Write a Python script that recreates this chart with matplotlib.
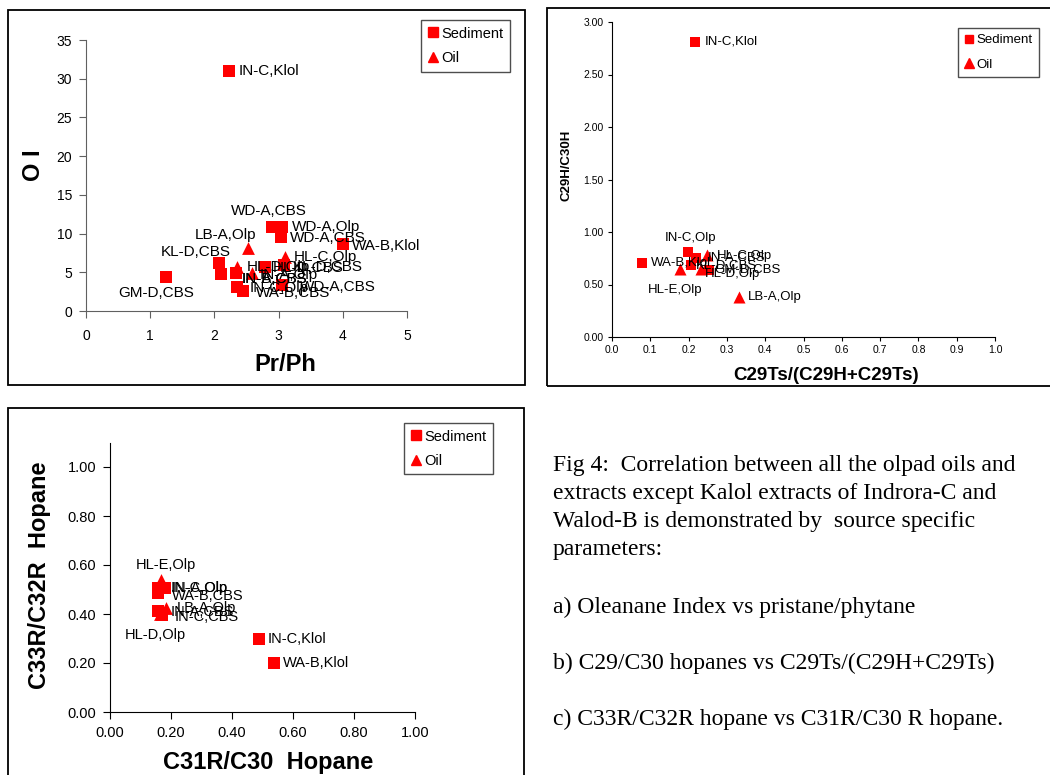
import matplotlib
matplotlib.use("Agg")
import matplotlib.pyplot as plt
from matplotlib.patches import Rectangle
from matplotlib.lines import Line2D

plt.rcParams['font.family'] = ['Liberation Sans', 'DejaVu Sans']

W, H = 1050, 775

# ---- a) OI vs Pr/Ph
a_names = ['IN-C,Klol', 'WD-A,CBS', 'WD-A,Olp', 'WD-A,CBS', 'WA-B,Klol', 'LB-A,Olp',
           'HL-C,Olp', 'KL-D,CBS', 'KL-D,CBS', 'GM-D,CBS', 'HL-D,Olp', 'HL-D,CBS',
           'IN-A,Olp', 'IN-A,CBS', 'IN-B,CBS', 'IN-C,Olp', 'WA-B,CBS', 'WD-A,CBS']
a_prph = [2.23, 2.90, 3.06, 3.04, 4.00, 2.52, 3.10, 3.08, 2.07, 1.25, 2.35, 2.79,
          2.58, 2.33, 2.11, 2.35, 2.45, 3.05]
a_oi = [31.0, 10.9, 10.8, 9.5, 8.7, 8.1, 7.0, 6.0, 6.2, 4.35, 5.7, 5.7,
        4.95, 4.95, 4.8, 3.05, 2.6, 3.35]
a_kind = ['S', 'S', 'S', 'S', 'S', 'O', 'O', 'S', 'S', 'S', 'O', 'S',
          'O', 'S', 'S', 'S', 'S', 'S']

# ---- b) C29H/C30H vs C29Ts/(C29H+C29Ts)
b_names = ['IN-C,Klol', 'WA-B,Klol', 'IN-C,Olp', 'IN-A,CBS', 'HL-C,Olp', 'HL-E,Olp',
           'KL-D,CBS', 'HL-D,Olp', 'GM-D,CBS', 'LB-A,Olp']
b_ts = [0.218, 0.078, 0.198, 0.220, 0.248, 0.178, 0.207, 0.233, 0.252, 0.331]
b_c29 = [2.81, 0.706, 0.805, 0.757, 0.78, 0.652, 0.684, 0.652, 0.635, 0.38]
b_kind = ['S', 'S', 'S', 'S', 'O', 'O', 'S', 'O', 'S', 'O']

# ---- c) C33R/C32R vs C31R/C30
c_names = ['IN-C,Klol', 'WA-B,Klol', 'HL-E,Olp', 'IN-C,Olp', 'IN-A,Olp', 'WA-B,CBS',
           'LB-A,Olp', 'IN-A,CBS', 'IN-C,CBS', 'HL-D,Olp']
c_c31 = [0.488, 0.539, 0.168, 0.156, 0.181, 0.159, 0.184, 0.156, 0.170, 0.165]
c_c33 = [0.297, 0.20, 0.539, 0.505, 0.505, 0.484, 0.423, 0.414, 0.396, 0.40]
c_kind = ['S', 'S', 'O', 'S', 'S', 'S', 'O', 'S', 'S', 'O']

caption = ['Fig 4:  Correlation between all the olpad oils and',
           'extracts except Kalol extracts of Indrora-C and',
           'Walod-B is demonstrated by  source specific',
           'parameters:',
           'a) Oleanane Index vs pristane/phytane',
           'b) C29/C30 hopanes vs C29Ts/(C29H+C29Ts)',
           'c) C33R/C32R hopane vs C31R/C30 R hopane.']

# label offsets in pixels (dx, dy, ha)
a_off = [(9, 0, 'left'), (-3, 16, 'center'), (9, 0, 'left'), (9, -1, 'left'),
         (9, -2, 'left'), (8, 13, 'right'), (9, 0, 'left'), (9, -2, 'left'),
         (12, 11, 'right'), (-10, -16, 'center'), (10, 0, 'left'), (8, -1, 'left'),
         (8, -2, 'left'), (6, -6, 'left'), (20, -5, 'left'), (13, -1, 'left'),
         (13, -2, 'left'), (18, -2, 'left')]
b_off = [(9, 0, 'left'), (9, 0, 'left'), (3, 14, 'center'), (11, 0, 'left'),
         (10, -1, 'left'), (-5, -21, 'center'), (5, 0, 'left'), (4, -5, 'left'),
         (6, 1, 'left'), (9, 0, 'left')]
c_off = [(9, 0, 'left'), (9, 0, 'left'), (5, 15, 'center'), (13, 0, 'left'),
         (6, 0, 'left'), (13, -3, 'left'), (11, 0, 'left'), (13, -1, 'left'),
         (13, -2, 'left'), (-5, -21, 'center')]


def fx(px):
    return px / W


def fy(py):
    return 1 - py / H


def axes_px(left, right, bottom, top):
    return fig.add_axes([fx(left), fy(bottom), fx(right - left), (bottom - top) / H])


def frame(left, top, right, bottom):
    fig.add_artist(Rectangle((fx(left), fy(bottom)), fx(right - left), (bottom - top) / H,
                             transform=fig.transFigure, fill=False,
                             edgecolor='black', lw=1.3))


def panel(ax, names, xs, ys, kinds, offs, fs, s_sq, s_tri):
    for n, x, y, k, o in zip(names, xs, ys, kinds, offs):
        ax.scatter(x, y, marker='s' if k == 'S' else '^', s=s_sq if k == 'S' else s_tri,
                   color='#ff0000', linewidths=0, zorder=3, clip_on=False)
        ax.annotate(n, (x, y), xytext=(o[0], o[1]), textcoords='offset pixels',
                    ha=o[2], va='center', fontsize=fs, color='black', zorder=4)
    for s in ['top', 'right']:
        ax.spines[s].set_visible(False)


def legend(ax, left, top, fs, ms, sp):
    h = [Line2D([], [], marker='s', ls='none', color='#ff0000', ms=ms, label='Sediment'),
         Line2D([], [], marker='^', ls='none', color='#ff0000', ms=ms + 1, label='Oil')]
    lg = ax.legend(handles=h, loc='upper left', bbox_to_anchor=(fx(left), fy(top)),
                   bbox_transform=fig.transFigure, fontsize=fs, frameon=True,
                   fancybox=False, borderaxespad=0, handlelength=0.7,
                   handletextpad=0.25, labelspacing=sp, borderpad=0.45)
    lg.get_frame().set_edgecolor('#222222')
    lg.get_frame().set_linewidth(1.0)


fig = plt.figure(figsize=(10.5, 7.75), dpi=100)

# panel a
frame(8, 10, 525, 385)
ax1 = axes_px(86, 407, 311, 40)
panel(ax1, a_names, a_prph, a_oi, a_kind, a_off, 11, 70, 85)
ax1.set_xlim(0, 5)
ax1.set_ylim(0, 35)
ax1.set_xticks(range(6))
ax1.set_yticks(range(0, 36, 5))
ax1.tick_params(direction='out', length=5, labelsize=10, colors='#606060',
                labelcolor='black', pad=5)
ax1.tick_params(axis='x', pad=8)
for s in ['left', 'bottom']:
    ax1.spines[s].set_color('#606060')
ax1.set_xlabel('Pr/Ph', fontsize=17, fontweight='bold')
ax1.xaxis.set_label_coords(0.62, -0.199)
ax1.xaxis.label.set_va('center')
ax1.set_ylabel('O I', fontsize=17, fontweight='bold')
ax1.yaxis.set_label_coords(-0.165, 0.539)
ax1.yaxis.label.set_va('center')
legend(ax1, 421, 20, 10.5, 6.5, 0.75)

# panel b
frame(547, 8, 1055, 386)
ax2 = axes_px(612, 995, 337, 22)
panel(ax2, b_names, b_ts, b_c29, b_kind, b_off, 9.5, 60, 75)
ax2.set_xlim(0, 1)
ax2.set_ylim(0, 3)
ax2.set_xticks([i / 10 for i in range(11)])
ax2.set_xticklabels(['%.1f' % (i / 10) for i in range(11)])
ax2.set_yticks([i / 2 for i in range(7)])
ax2.set_yticklabels(['%.2f' % (i / 2) for i in range(7)])
ax2.tick_params(direction='out', length=3, labelsize=7.5, pad=3)
ax2.set_xlabel('C29Ts/(C29H+C29Ts)', fontsize=13.5, fontweight='bold')
ax2.xaxis.set_label_coords(0.559, -0.121)
ax2.xaxis.label.set_va('center')
ax2.set_ylabel('C29H/C30H', fontsize=9.5, fontweight='bold')
ax2.yaxis.set_label_coords(-0.12, 0.546)
ax2.yaxis.label.set_va('center')
legend(ax2, 958, 28, 9.5, 6, 0.95)

# panel c
frame(8, 408, 524, 780)
ax3 = axes_px(110, 415, 712, 442.5)
panel(ax3, c_names, c_c31, c_c33, c_kind, c_off, 10.5, 65, 85)
ax3.set_xlim(0, 1)
ax3.set_ylim(0, 1.1)
ax3.set_xticks([i / 5 for i in range(6)])
ax3.set_xticklabels(['%.2f' % (i / 5) for i in range(6)])
ax3.set_yticks([i / 5 for i in range(6)])
ax3.set_yticklabels(['%.2f' % (i / 5) for i in range(6)])
ax3.tick_params(direction='out', length=5, labelsize=10.5, pad=5)
ax3.set_xlabel('C31R/C30  Hopane', fontsize=17, fontweight='bold')
ax3.xaxis.set_label_coords(0.518, -0.186)
ax3.xaxis.label.set_va('center')
ax3.set_ylabel('C33R/C32R  Hopane', fontsize=17, fontweight='bold')
ax3.yaxis.set_label_coords(-0.23, 0.508)
ax3.yaxis.label.set_va('center')
legend(ax3, 404, 423, 10.5, 6.5, 0.7)

# caption text on the right
cap_y = [466, 493, 521, 550, 607, 663, 719]
for t, py in zip(caption, cap_y):
    fig.text(fx(553), fy(py), t, ha='left', va='center', fontsize=17,
             family=['Liberation Serif', 'DejaVu Serif'], color='black')

fig.savefig('out.png', dpi=100)
